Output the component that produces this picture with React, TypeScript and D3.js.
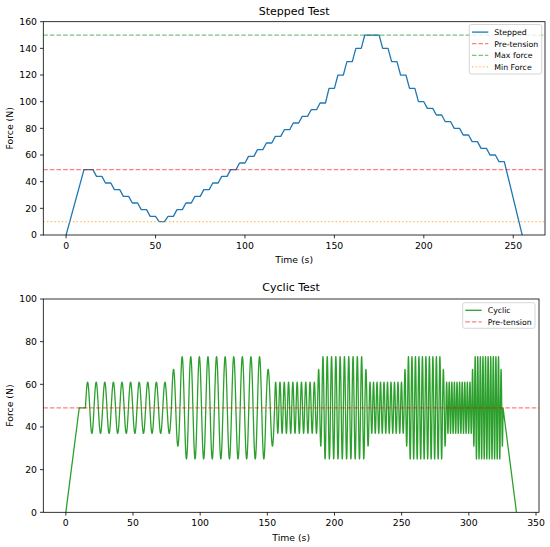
import { useEffect, useRef } from "react";
import * as d3 from "d3";

// reference force levels (N)
const PRE_TENSION = 49;
const MAX_FORCE = 150;
const MIN_FORCE = 10;

// stepped test: ramp 0 -> pre-tension, hold, then one level per step
const stepRampEnd = 10;
const stepHoldEnd = 15;
const stepPeriod = 5;
const stepRampTime = 2;
const steppedLevels = [
  44, 39, 34, 29, 24, 19, 14, 10,
  14, 19, 24, 29, 34, 39, 44, 49, 54, 59, 64, 69, 74, 79, 84, 89, 94, 99,
  110, 120, 130, 140, 150, 150,
  140, 130, 120, 110, 100, 95, 90, 85, 80, 75, 70, 65, 60, 55,
];
const stepReleaseEnd = 255;

// cyclic test: blocks of sine cycles around pre-tension
const cyclicRampEnd = 10;
const cyclicStart = 14.6;
const cyclicPeriods = [6.4, 6.4, 6.4, 6.4, 3.2, 3.2, 3.2, 3.2, 2.6, 2.6, 2.6, 2.6, 1.93, 1.93, 1.93, 1.93];
const cyclicAmplitudes = [12, 18, 24, 18, 12, 18, 24, 18, 12, 18, 24, 18, 12, 18, 24, 18];
const cyclicCounts = [10, 1, 10, 1, 10, 1, 10, 1, 10, 1, 10, 1, 10, 1, 10, 1];
const cyclicReleaseTime = 10;

const steppedXTicks = [0, 50, 100, 150, 200, 250];
const steppedYTicks = [0, 20, 40, 60, 80, 100, 120, 140, 160];
const cyclicXTicks = [0, 50, 100, 150, 200, 250, 300, 350];
const cyclicYTicks = [0, 20, 40, 60, 80, 100];

type Pt = [number, number];

function buildStepped(): Pt[] {
  const pts: Pt[] = [[0, 0], [stepRampEnd, PRE_TENSION], [stepHoldEnd, PRE_TENSION]];
  steppedLevels.forEach((lv, i) => {
    const t0 = stepHoldEnd + i * stepPeriod;
    pts.push([t0 + stepRampTime, lv], [t0 + stepPeriod, lv]);
  });
  pts.push([stepReleaseEnd, 0]);
  return pts;
}

function buildCyclic(): Pt[] {
  const pts: Pt[] = [[0, 0], [cyclicRampEnd, PRE_TENSION], [cyclicStart, PRE_TENSION]];
  let t = cyclicStart;
  cyclicPeriods.forEach((p, b) => {
    const a = cyclicAmplitudes[b];
    for (let c = 0; c < cyclicCounts[b]; c++) {
      for (let k = 1; k <= 40; k++) {
        const u = k / 40;
        pts.push([t + u * p, PRE_TENSION + a * Math.sin(2 * Math.PI * u)]);
      }
      t += p;
    }
  });
  pts.push([t + cyclicReleaseTime, 0]);
  return pts;
}

const FONT = "DejaVu Sans, sans-serif";

interface LegendItem {
  label: string;
  color: string;
  dash?: string;
  opacity?: number;
}

interface Panel {
  left: number;
  right: number;
  top: number;
  bottom: number;
  title: string;
  titleY: number;
  yMax: number;
  xTicks: number[];
  yTicks: number[];
  data: Pt[];
  color: string;
  refs: { y: number; color: string; dash: string; opacity: number }[];
  legend: LegendItem[];
  legendBox: [number, number, number, number];
}

function drawPanel(svg: d3.Selection<SVGSVGElement, unknown, null, undefined>, p: Panel) {
  const tMax = d3.max(p.data, (d) => d[0]) ?? 1;
  const x = d3.scaleLinear().domain([-0.05 * tMax, tMax * 1.05]).range([p.left, p.right]);
  const y = d3.scaleLinear().domain([0, p.yMax]).range([p.bottom, p.top]);
  const g = svg.append("g");

  const clipId = "clip-" + p.title.replace(/\s/g, "");
  g.append("clipPath").attr("id", clipId)
    .append("rect").attr("x", p.left).attr("y", p.top)
    .attr("width", p.right - p.left).attr("height", p.bottom - p.top);

  const plot = g.append("g").attr("clip-path", `url(#${clipId})`);

  const line = d3.line<Pt>().x((d) => x(d[0])).y((d) => y(d[1]));
  plot.append("path").datum(p.data).attr("d", line)
    .attr("fill", "none").attr("stroke", p.color).attr("stroke-width", 1.3)
    .attr("stroke-linejoin", "round");

  p.refs.forEach((r) => {
    plot.append("line")
      .attr("x1", p.left).attr("x2", p.right)
      .attr("y1", y(r.y)).attr("y2", y(r.y))
      .attr("stroke", r.color).attr("stroke-opacity", r.opacity)
      .attr("stroke-width", 1.3).attr("stroke-dasharray", r.dash);
  });

  // frame
  g.append("rect").attr("x", p.left).attr("y", p.top)
    .attr("width", p.right - p.left).attr("height", p.bottom - p.top)
    .attr("fill", "none").attr("stroke", "#000").attr("stroke-width", 0.8);

  // x ticks
  p.xTicks.forEach((t) => {
    g.append("line").attr("x1", x(t)).attr("x2", x(t))
      .attr("y1", p.bottom).attr("y2", p.bottom + 3.3)
      .attr("stroke", "#000").attr("stroke-width", 0.8);
    g.append("text").attr("x", x(t)).attr("y", p.bottom + 14)
      .attr("text-anchor", "middle").attr("font-size", 9.3)
      .attr("font-family", FONT).attr("fill", "#000").text(t);
  });
  p.yTicks.forEach((v) => {
    g.append("line").attr("x1", p.left - 3.3).attr("x2", p.left)
      .attr("y1", y(v)).attr("y2", y(v))
      .attr("stroke", "#000").attr("stroke-width", 0.8);
    g.append("text").attr("x", p.left - 6.3).attr("y", y(v)).attr("dy", "0.36em")
      .attr("text-anchor", "end").attr("font-size", 9.3)
      .attr("font-family", FONT).attr("fill", "#000").text(v);
  });

  // labels and title
  g.append("text").attr("x", (p.left + p.right) / 2).attr("y", p.bottom + 28.2)
    .attr("text-anchor", "middle").attr("font-size", 9.3).attr("font-family", FONT)
    .text("Time (s)");
  g.append("text")
    .attr("transform", `translate(13,${(p.top + p.bottom) / 2}) rotate(-90)`)
    .attr("text-anchor", "middle").attr("font-size", 9.3).attr("font-family", FONT)
    .text("Force (N)");
  g.append("text").attr("x", (p.left + p.right) / 2).attr("y", p.titleY)
    .attr("text-anchor", "middle").attr("font-size", 11).attr("font-family", FONT)
    .text(p.title);

  // legend
  const [lx, ly, lw, lh] = p.legendBox;
  g.append("rect").attr("x", lx).attr("y", ly).attr("width", lw).attr("height", lh)
    .attr("rx", 2).attr("fill", "#fff").attr("fill-opacity", 0.8)
    .attr("stroke", "#ccc").attr("stroke-width", 0.8);
  p.legend.forEach((item, i) => {
    const cy = ly + 7.6 + i * 11.6;
    g.append("line").attr("x1", lx + 2.6).attr("x2", lx + 19)
      .attr("y1", cy).attr("y2", cy)
      .attr("stroke", item.color).attr("stroke-opacity", item.opacity ?? 1)
      .attr("stroke-width", 1.3).attr("stroke-dasharray", item.dash ?? null);
    g.append("text").attr("x", lx + 25).attr("y", cy).attr("dy", "0.36em")
      .attr("font-size", 7.8).attr("font-family", FONT).attr("fill", "#000")
      .text(item.label);
  });
}

export default function App() {
  const ref = useRef<SVGSVGElement | null>(null);

  useEffect(() => {
    if (!ref.current) return;
    const svg = d3.select(ref.current);
    svg.selectAll("*").remove();

    const DASH = "4.6,2";
    const DOT = "1.4,2.3";

    drawPanel(svg, {
      left: 43.3, right: 545, top: 21.7, bottom: 235,
      title: "Stepped Test", titleY: 15.3, yMax: 160,
      xTicks: steppedXTicks, yTicks: steppedYTicks,
      data: buildStepped(), color: "#1f77b4",
      refs: [
        { y: PRE_TENSION, color: "#ff0000", dash: DASH, opacity: 0.5 },
        { y: MAX_FORCE, color: "#008000", dash: DASH, opacity: 0.5 },
        { y: MIN_FORCE, color: "#ffa500", dash: DOT, opacity: 0.7 },
      ],
      legend: [
        { label: "Stepped", color: "#1f77b4" },
        { label: "Pre-tension", color: "#ff0000", dash: DASH, opacity: 0.5 },
        { label: "Max force", color: "#008000", dash: DASH, opacity: 0.5 },
        { label: "Min Force", color: "#ffa500", dash: DOT, opacity: 0.7 },
      ],
      legendBox: [469.3, 24.5, 72.4, 49.5],
    });

    drawPanel(svg, {
      left: 43.3, right: 539, top: 299, bottom: 512.3,
      title: "Cyclic Test", titleY: 291.3, yMax: 100,
      xTicks: cyclicXTicks, yTicks: cyclicYTicks,
      data: buildCyclic(), color: "#2ca02c",
      refs: [{ y: PRE_TENSION, color: "#ff0000", dash: DASH, opacity: 0.5 }],
      legend: [
        { label: "Cyclic", color: "#2ca02c" },
        { label: "Pre-tension", color: "#ff0000", dash: DASH, opacity: 0.5 },
      ],
      legendBox: [462.7, 302.7, 72.3, 25.6],
    });
  }, []);

  return (
    <svg
      ref={ref}
      width={550}
      height={547}
      style={{ position: "absolute", left: 0, top: 0, background: "#fff" }}
    />
  );
}
